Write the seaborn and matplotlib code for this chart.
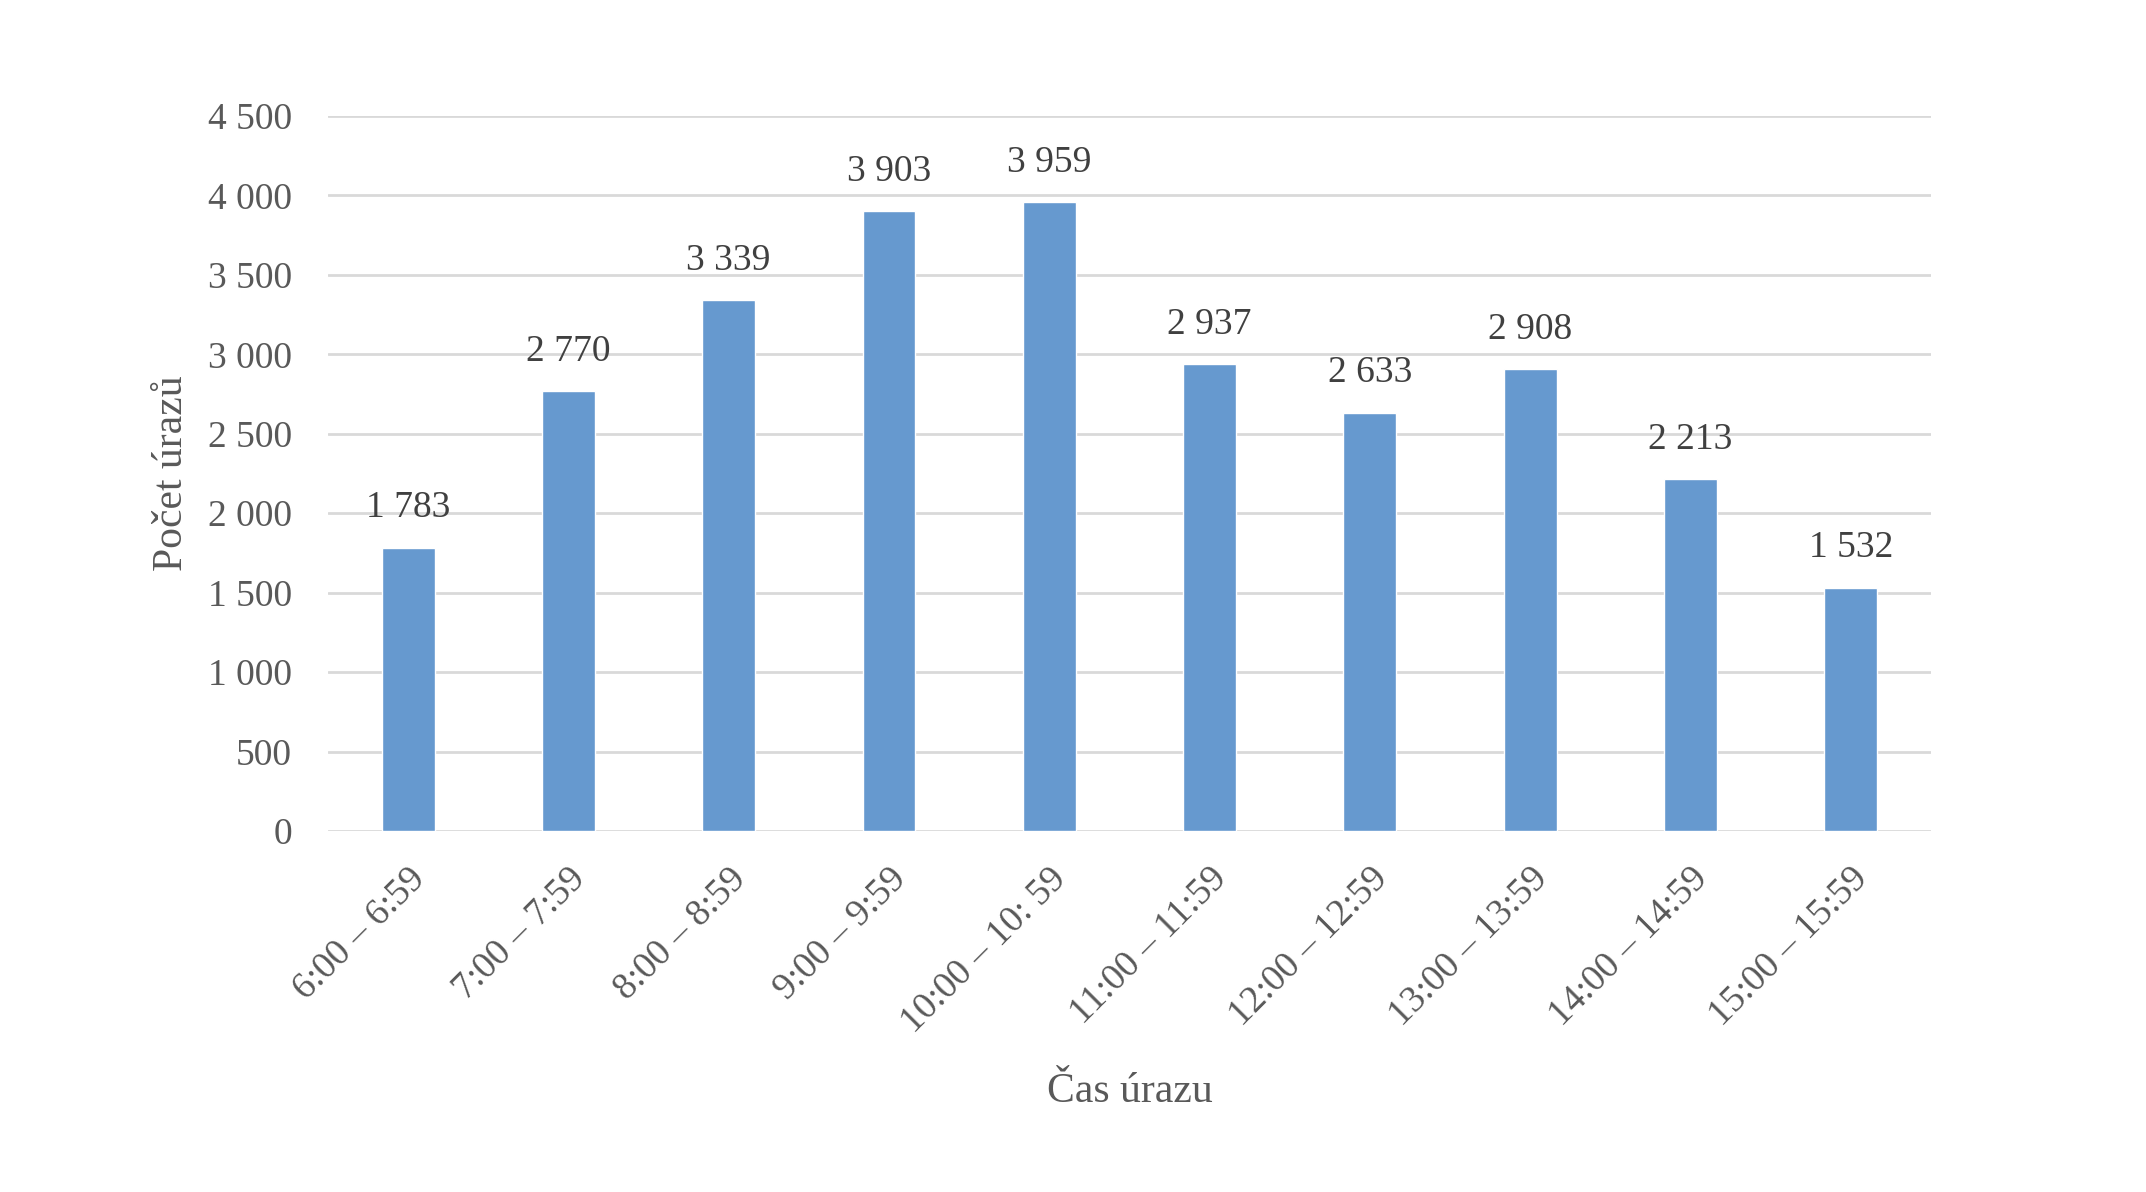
"""
Počet úrazů podle času úrazu - sloupcový graf
"""
import pandas as pd
import matplotlib
matplotlib.use('Agg')
import matplotlib.pyplot as plt
import seaborn as sns
from matplotlib.ticker import FuncFormatter

# data
casy = ['6:00 – 6:59', '7:00 – 7:59', '8:00 – 8:59', '9:00 – 9:59',
        '10:00 – 10: 59', '11:00 – 11:59', '12:00 – 12:59', '13:00 – 13:59',
        '14:00 – 14:59', '15:00 – 15:59']
pocty = [1783, 2770, 3339, 3903, 3959, 2937, 2633, 2908, 2213, 1532]
y_ticks = [0, 500, 1000, 1500, 2000, 2500, 3000, 3500, 4000, 4500]

# styl
sns.set_theme(style='white')
plt.rcParams['font.family'] = ['Liberation Serif', 'DejaVu Serif']

df = pd.DataFrame({'cas': casy, 'pocet': pocty})

fig, ax = plt.subplots(figsize=(21.46, 11.92), dpi=100)
fig.subplots_adjust(left=0.1528, right=0.8998, top=0.9027, bottom=0.3029)

sns.barplot(data=df, x='cas', y='pocet', color='#6699cf', saturation=1,
            width=0.33, ax=ax, zorder=3)

def fmt(v, pos=None):
    return f"{int(v):,}".replace(',', ' ')

ax.set_ylim(0, 4500)
ax.set_xlim(-0.5, len(casy) - 0.5)
ax.set_yticks(y_ticks)
ax.yaxis.set_major_formatter(FuncFormatter(fmt))
ax.grid(axis='y', color='#d9d9d9', linewidth=2, zorder=0)
ax.grid(axis='x', visible=False)
for s in ax.spines.values():
    s.set_visible(False)

ax.tick_params(axis='y', length=0, pad=26, labelsize=27, labelcolor='#595959')
ax.tick_params(axis='x', length=0, pad=22, labelsize=27, labelcolor='#595959')
plt.setp(ax.get_xticklabels(), rotation=45, ha='right', va='top',
         rotation_mode='anchor')

ax.bar_label(ax.containers[0], labels=[fmt(v) for v in pocty], padding=16,
             fontsize=27, color='#404040')

ax.set_xlabel('Čas úrazu', fontsize=30, color='#595959', labelpad=24)
ax.set_ylabel('Počet úrazů', fontsize=30, color='#595959', labelpad=12)

fig.savefig('out.png', dpi=100, facecolor='white')
